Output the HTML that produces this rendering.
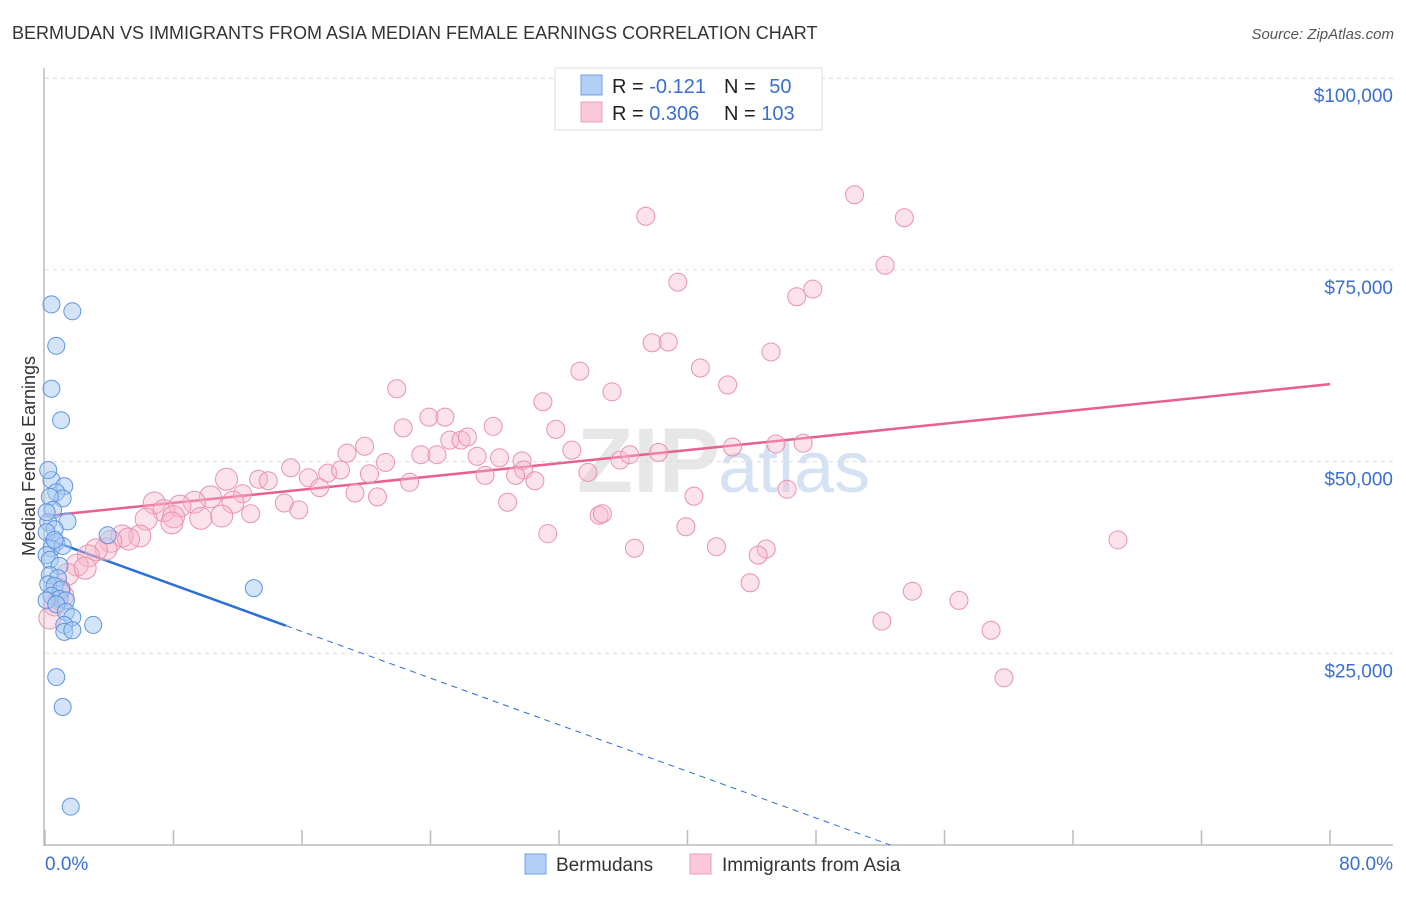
<!DOCTYPE html>
<html><head><meta charset="utf-8">
<style>
body{margin:0;background:#fff;font-family:"Liberation Sans",sans-serif;}
svg text{font-family:"Liberation Sans",sans-serif;}
</style></head>
<body>
<svg id="chart" width="1406" height="892" viewBox="0 0 1406 892" xmlns="http://www.w3.org/2000/svg">
<text x="12" y="39" font-size="18" fill="#333">BERMUDAN VS IMMIGRANTS FROM ASIA MEDIAN FEMALE EARNINGS CORRELATION CHART</text>
<text x="1394" y="39" font-size="15" fill="#555" font-style="italic" text-anchor="end">Source: ZipAtlas.com</text>
<text x="720" y="492" font-size="92" fill="#d8d8d8" font-weight="bold" text-anchor="end" font-family="Liberation Serif" opacity="0.6">ZIP</text>
<text x="718" y="492" font-size="72" fill="#b8d0ec" opacity="0.6">atlas</text>
<g id="grid"></g>
<g id="axes"></g>
<g id="trend"></g>
<g id="points"></g>
<text transform="translate(35,456) rotate(-90)" font-size="18" fill="#333" text-anchor="middle">Median Female Earnings</text>
<g>
<rect x="555" y="68" width="267" height="62" fill="#fff" stroke="#ddd"/>
<rect x="581" y="75" width="21" height="20" fill="#b3cff5" stroke="#6fa0e6"/>
<rect x="581" y="102" width="21" height="20" fill="#fbc8d8" stroke="#ee9db8"/>
<text x="612" y="93" font-size="20" fill="#222">R = <tspan fill="#3a6fd0">-0.121</tspan></text>
<text x="724" y="93" font-size="20" fill="#222">N = <tspan fill="#3a6fd0" dx="8">50</tspan></text>
<text x="612" y="120" font-size="20" fill="#222">R = <tspan fill="#3a6fd0">0.306</tspan></text>
<text x="724" y="120" font-size="20" fill="#222">N = <tspan fill="#3a6fd0">103</tspan></text>
</g>
<g>
<rect x="525" y="854" width="21" height="20" fill="#b3cff5" stroke="#6fa0e6"/>
<text x="556" y="871" font-size="19" fill="#333">Bermudans</text>
<rect x="690" y="854" width="21" height="20" fill="#fbc8d8" stroke="#ee9db8"/>
<text x="722" y="871" font-size="19" fill="#333">Immigrants from Asia</text>
</g>
</svg>
<script>
const xTickLabels=["0.0%","80.0%"];
const yTicks=[25000,50000,75000,100000];
const yTickLabels=["$25,000","$50,000","$75,000","$100,000"];
const blueX=[0.4,1.7,0.7,0.4,1.0,0.4,1.2,0.7,1.1,0.3,0.5,1.4,0.2,0.6,0.1,0.7,0.4,1.1,0.1,0.3,0.9,0.3,0.8,0.2,0.6,1.0,0.4,0.9,1.3,0.1,0.7,1.3,1.7,1.2,3.0,1.2,1.7,0.7,1.1,1.6,3.9,13.0,0.1,0.2,0.6];
const blueY=[70.5,69.6,65.1,59.5,55.4,47.6,46.8,46.0,45.2,45.4,43.7,42.2,42.1,41.2,40.8,39.5,38.7,39.0,37.8,37.2,36.4,35.2,34.8,34.0,33.8,33.3,32.5,32.1,31.9,31.9,31.4,30.4,29.7,28.7,28.7,27.8,28.0,21.9,18.0,5.0,40.4,33.5,43.4,48.9,39.8];
const pinkX=[50.4,53.5,37.4,52.3,39.4,47.8,46.8,37.8,38.8,45.2,33.3,40.8,42.5,21.9,35.3,31.0,23.9,24.9,22.3,31.8,27.9,19.9,25.2,25.9,26.3,32.8,45.5,47.2,42.8,38.2,35.8,36.4,18.8,23.4,24.4,26.9,28.3,29.7,29.8,21.2,33.8,15.3,17.6,18.4,20.2,27.4,29.3,11.3,13.3,13.9,16.4,22.7,30.5,19.3,17.1,20.7,12.3,10.3,11.7,9.3,6.8,8.4,14.9,15.8,12.8,28.8,40.4,46.2,7.4,6.3,8.0,11.0,9.7,34.5,34.7,7.9,31.3,39.9,5.9,4.8,5.2,4.1,3.8,3.2,41.8,36.7,44.9,44.4,2.7,66.8,2.0,1.4,2.5,43.9,54.0,56.9,52.1,58.9,59.7,0.9,0.6,0.3,1.1];
const pinkY=[84.8,81.8,82.0,75.6,73.4,72.5,71.5,65.5,65.6,64.3,61.8,62.2,60.0,59.5,59.1,57.8,55.8,55.8,54.4,54.2,54.6,52.0,52.8,52.8,53.2,51.5,52.3,52.4,51.9,51.2,50.2,50.9,51.1,50.9,50.9,50.7,50.5,50.1,48.9,49.9,48.6,49.2,48.5,48.9,48.4,48.2,48.2,47.7,47.7,47.5,47.9,47.3,47.5,45.9,46.6,45.4,45.8,45.4,44.7,44.7,44.6,44.2,44.6,43.7,43.2,44.7,45.5,46.4,43.6,42.5,42.8,42.9,42.6,43.0,43.2,42.0,40.6,41.5,40.3,40.3,39.9,39.6,38.6,38.5,38.9,38.7,38.6,37.8,37.7,39.8,36.5,35.3,36.1,34.2,33.1,31.9,29.2,28.0,21.8,33.3,31.3,29.6,32.5];
const pinkTrend=[42.9,60.1]; // y (k$) at x=0 and x=80
const blueTrend=[40.0,28.6,15]; // y at 0, y at solidEnd, solidEnd x
const NS="http://www.w3.org/2000/svg";
const X=v=>45+v/80*1285;
const Y=v=>845-v/25*191.7; // v in thousands
function mk(tag,attrs,parent){const e=document.createElementNS(NS,tag);for(const k in attrs)e.setAttribute(k,attrs[k]);parent.appendChild(e);return e;}
const grid=document.getElementById('grid'),axes=document.getElementById('axes'),trend=document.getElementById('trend'),pts=document.getElementById('points');
yTicks.forEach((t,i)=>{
 const y=Y(t/1000);
 const l=mk('line',{x1:45,x2:1393,y1:y,y2:y,stroke:'#ddd','stroke-dasharray':'4,4'},grid);
 
 
 const tx=mk('text',{x:1393,y:y+24,'font-size':19,fill:'#3a6fd0','text-anchor':'end'},axes);
 tx.textContent=yTickLabels[i];
 
 
});
const topl=mk('line',{x1:45,x2:1393,y1:Y(100)-0,y2:Y(100),stroke:'#ddd','stroke-dasharray':'4,4'},grid);
const ya=mk('line',{x1:44,x2:44,y1:68,y2:846,stroke:'#bbb','stroke-width':1.5},axes);


const xa=mk('line',{x1:44,x2:1393,y1:845,y2:845,stroke:'#bbb','stroke-width':1.5},axes);


for(let i=0;i<=10;i++){const x=X(i*8);const t=mk('line',{x1:x,x2:x,y1:830,y2:845,stroke:'#bbb','stroke-width':1.5},axes);
 
 }
const xl0=mk('text',{x:45,y:870,'font-size':19,fill:'#3a6fd0'},axes);xl0.textContent=xTickLabels[0];


const xl1=mk('text',{x:1393,y:870,'font-size':19,fill:'#3a6fd0','text-anchor':'end'},axes);xl1.textContent=xTickLabels[1];


pinkX.forEach((x,i)=>{const c=mk('circle',{cx:X(x),cy:Y(pinkY[i]),r:x<12?11:9,fill:'#f7b6cb','fill-opacity':0.38,stroke:'#e892ae','stroke-width':1},pts);
 
 });
blueX.forEach((x,i)=>{const c=mk('circle',{cx:X(x),cy:Y(blueY[i]),r:8.5,fill:'#a9c9f2','fill-opacity':0.5,stroke:'#5f95e2','stroke-width':1},pts);
 
 });
const pl=mk('line',{x1:X(0),y1:Y(pinkTrend[0]),x2:X(80),y2:Y(pinkTrend[1]),stroke:'#e8608e','stroke-width':2.5},trend);


const slope=(blueTrend[1]-blueTrend[0])/blueTrend[2];
const bl=mk('line',{x1:X(0),y1:Y(blueTrend[0]),x2:X(blueTrend[2]),y2:Y(blueTrend[1]),stroke:'#2a6fd6','stroke-width':2.5},trend);


const xEnd=-blueTrend[0]/slope;
const bd=mk('line',{x1:X(blueTrend[2]),y1:Y(blueTrend[1]),x2:X(xEnd),y2:Y(0),stroke:'#2a6fd6','stroke-width':1,'stroke-dasharray':'6,5'},trend);


</script>
</body></html>
